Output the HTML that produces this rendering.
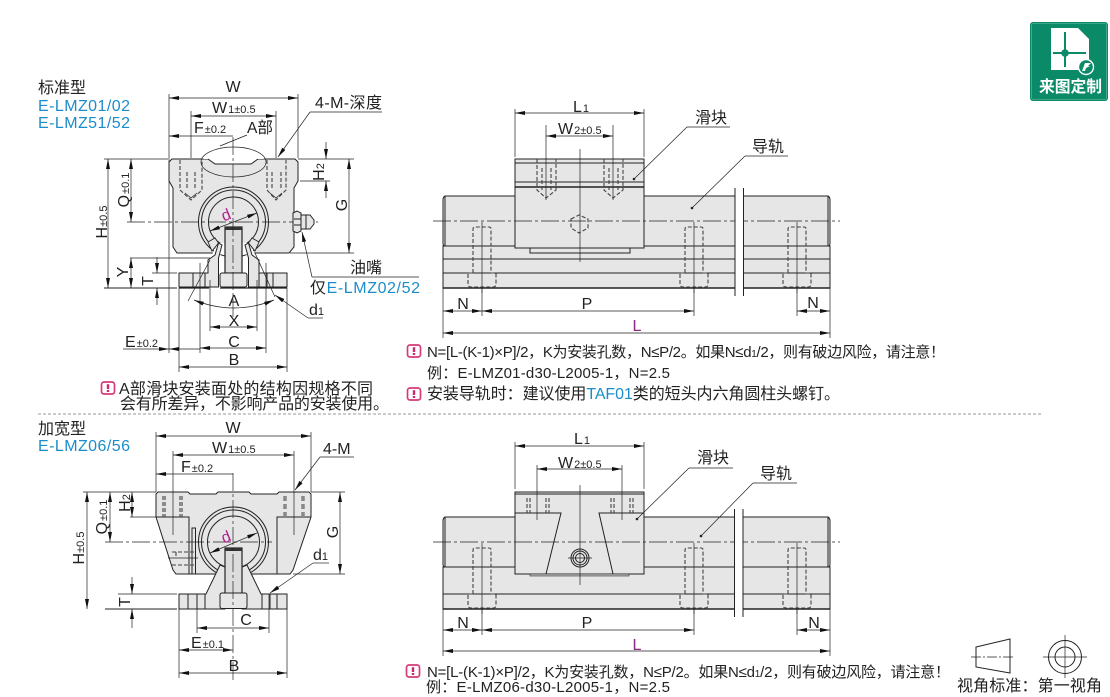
<!DOCTYPE html>
<html><head><meta charset="utf-8"><style>
html,body{margin:0;padding:0;background:#fff}
svg{display:block}
text{font-family:"Liberation Sans","Noto Sans CJK SC",sans-serif;fill:#222;font-size:16px}
.s{font-size:11px}
.b{fill:#1b8ccb}
.c{text-anchor:middle}
.o{fill:none;stroke:#222;stroke-width:1}
.f{fill:#e6e6e6;stroke:#222;stroke-width:1}
.t{fill:none;stroke:#222;stroke-width:.7}
.a{fill:none;stroke:#222;stroke-width:.7;marker-start:url(#m);marker-end:url(#m)}
.e{fill:none;stroke:#222;stroke-width:.7;marker-end:url(#m)}
.cl{fill:none;stroke:#222;stroke-width:.7;stroke-dasharray:18 3 3 3}
.h{fill:none;stroke:#444;stroke-width:1.1;stroke-dasharray:4 2}
.n{font-size:15px}
</style></head><body>
<svg width="1110" height="697" viewBox="0 0 1110 697" xmlns="http://www.w3.org/2000/svg">
<defs>
<marker id="m" markerUnits="userSpaceOnUse" markerWidth="10" markerHeight="4" viewBox="0 0 10 4" refX="10" refY="2" orient="auto-start-reverse"><path d="M0,0L10,2L0,4z" fill="#111"/></marker>
<g id="ni"><rect x="-6.500" y="-6" width="13" height="12" rx="2.500" fill="#fff" stroke="#d83a78" stroke-width="1.700"/><rect x="-1.200" y="-3.800" width="2.400" height="4.800" fill="#c92a6c"/><rect x="-1.200" y="2" width="2.400" height="2" fill="#c92a6c"/></g>
<g id="bolt"><path class="h" d="M-9,46V2Q-9,0 -7,0H7Q9,0 9,2V46"/><path class="h" d="M-9,46H-14V57Q-14,60 -11,60H11Q14,60 14,57V46H9"/><path class="t" d="M0,-5V66"/></g>
</defs>

<!-- top-right icon -->
<rect x="1030" y="22" width="78" height="79" rx="3" fill="#0b8a68"/>
<rect x="1031.500" y="23.500" width="75" height="76" rx="2" fill="none" stroke="#6fbfa8" stroke-width=".6"/>
<path d="M1051,28H1078L1089,39V70H1051z" fill="#fff"/>
<path d="M1065,32V67M1053,53H1086" stroke="#0b8a68" stroke-width="2" fill="none"/>
<circle cx="1065" cy="53" r="3.800" fill="#0b8a68"/>
<circle cx="1086" cy="67" r="7.500" fill="#0b8a68" stroke="#fff" stroke-width="1.400"/>
<path d="M1082,71L1085,63H1091L1088,66H1090L1086,68L1085,71z" fill="#fff"/>
<text x="1039" y="92" style="fill:#fff;font-size:16px;font-weight:bold" textLength="63" lengthAdjust="spacingAndGlyphs">来图定制</text>

<!-- left headings -->
<text x="38" y="93">标准型</text>
<text x="38" y="111" class="b" textLength="92">E-LMZ01/02</text>
<text x="38" y="128" class="b" textLength="92">E-LMZ51/52</text>

<!-- ========== diagram 1 ========== -->
<path class="f" d="M172,159H295L298,162V181L294,188V247L289,253H177L173,247V188L169,181V162z"/>
<circle cx="233.500" cy="222" r="35" class="o"/>
<circle cx="233.500" cy="222" r="32" class="o"/>
<circle cx="233.500" cy="222" r="25" class="o"/>
<path d="M212,254.500L218,243H249L255,254.500z" fill="#fff"/>
<path d="M197,254H205L215,240H252L262,254H270L262,240H205z" fill="#e6e6e6" opacity="0"/>
<path d="M208,242L215,238L218.500,243L212,251zM259,242L252,238L248.500,243L255,251z" fill="#e6e6e6" stroke="#222" stroke-width=".9"/>
<!-- A part ellipse -->
<path d="M203,159A32.500,15 0 0 1 264,159z" fill="#fff"/>
<path d="M208,159L215,164H251L258,159z" fill="#fff"/>
<ellipse cx="233.500" cy="162" rx="32.500" ry="15" class="t"/>
<path class="o" d="M208,159L215,164H251L258,159"/>
<!-- hidden holes -->
<path class="h" d="M180,160V190L191,200L202,190V160M187,172V190M195,172V190"/>
<path class="h" d="M267,160V190L276,200L286,190V160M272,172V190M281,172V190"/>
<path class="t" d="M185,193L191,198L197,193M270,193L276,198L282,193"/>
<!-- rail -->
<path class="f" d="M179,273H208V260L215,255L218.500,243L222,245L218.500,258V287H179z"/>
<path class="f" d="M287,273H259V260L252,255L248.500,243L245,245L248.500,258V287H287z"/>
<path class="o" d="M193,273V287M205,273V287M259,273V287M267,273V287M273,273V287"/>
<rect x="225" y="227" width="17" height="46" fill="#dcdcdc" stroke="#222" stroke-width="1.200"/>
<rect x="225" y="227" width="17" height="3" fill="#333"/>
<rect x="220" y="273" width="27" height="14" rx="2" class="f"/>
<path d="M179,288H209M220,288H287" stroke="#222" stroke-width="1.200"/>
<path d="M233,137V318" class="cl"/>
<path d="M127,222H318" class="cl"/>
<!-- nipple -->
<path class="f" d="M293,213L297,211L301,213V231L297,233L293,231z"/>
<path class="f" d="M301,215H310L314,220V224L310,229H301z"/>
<path class="o" d="M294,219H301M294,225H301M306,215V229"/>
<!-- dims -->
<path class="t" d="M169,94V353M298,94V158M191,111V158M276,111V158M104,159H168M298,159H354M290,253H354M130,258H210M152,273H177M300,181H330M200,263V353M266,263V353M210,280V331M257,280V331M179,288V372M287,288V372"/>
<path d="M104,288H177" stroke="#222" stroke-width="1.100"/>
<path class="a" d="M169,98H298"/>
<path class="a" d="M191,116H276"/>
<path class="e" d="M233,136H169"/>
<path class="a" d="M108,159V288"/>
<path class="a" d="M131,159V222"/>
<path class="a" d="M131,258V288"/>
<path class="e" d="M157,257V273"/><path class="e" d="M157,305V288"/>
<path class="a" d="M349,159V253"/>
<path class="e" d="M326,142V159"/><path class="e" d="M326,198V181"/>
<path class="a" d="M210,327H257"/>
<path class="a" d="M200,348H266"/>
<path class="a" d="M179,367H287"/>
<path class="e" d="M123,349H169"/><path class="e" d="M200,349H169"/>
<path class="t" d="M210,260L188,301M255,253L275,297"/>
<path class="a" d="M194,300Q234,316 274,300"/>
<path class="a" d="M210,231L257,213"/>
<path class="t" d="M310,112H382"/><path class="e" d="M310,112L278,157"/>
<path class="t" d="M312,277H419"/><path class="e" d="M312,277L302,232"/>
<path class="t" d="M323,318H308"/><path class="e" d="M308,318L275,295"/>
<path class="t" d="M247,135L220,146"/>
<text x="233" y="92" class="c">W</text>
<text x="212" y="113">W<tspan class="s" dx="1">1±0.5</tspan></text>
<text x="194" y="133">F<tspan class="s" dx="1">±0.2</tspan></text>
<text x="247" y="133" textLength="26" lengthAdjust="spacingAndGlyphs">A部</text>
<text x="315" y="108" textLength="67">4-M-深度</text>
<text transform="translate(107,222) rotate(-90)" class="c">H<tspan class="s">±0.5</tspan></text>
<text transform="translate(129,190) rotate(-90)" class="c">Q<tspan class="s" dx="1">±0.1</tspan></text>
<text transform="translate(324,172) rotate(-90)" class="c">H<tspan class="s">2</tspan></text>
<text transform="translate(347,205) rotate(-90)" class="c">G</text>
<text transform="translate(128,272) rotate(-90)" class="c">Y</text>
<text transform="translate(153,281) rotate(-90)" class="c">T</text>
<text transform="translate(228,220) rotate(-22)" class="c" style="fill:#b0208c">d</text>
<text x="234" y="306" class="c">A</text>
<text x="234" y="326" class="c">X</text>
<text x="234" y="347" class="c">C</text>
<text x="234" y="365" class="c">B</text>
<text x="125" y="347">E<tspan class="s" dx="1">±0.2</tspan></text>
<text x="309" y="315">d<tspan class="s">1</tspan></text>
<text x="350" y="273" textLength="32">油嘴</text>
<text x="310" y="293" textLength="110">仅<tspan class="b">E-LMZ02/52</tspan></text>

<!-- note A -->
<use href="#ni" x="108" y="388"/>
<text x="119" y="394" textLength="254">A部滑块安装面处的结构因规格不同</text>
<text x="120" y="409" textLength="269">会有所差异，不影响产品的安装使用。</text>

<!-- ========== diagram 2 ========== -->
<rect x="443" y="246" width="387" height="42" class="f"/>
<path d="M443,288H830" stroke="#222" stroke-width="1.400"/>
<path class="f" d="M445,196H828Q830,197 830,200V243Q830,246 828,246H445Q443,246 443,243V200Q443,197 445,196z"/>
<path class="o" d="M445,196V246M828,196V246M443,259H830M443,273H830"/>
<rect x="515" y="159" width="129" height="89" class="f"/>
<path class="o" d="M515,163H644M515,182H644"/><path d="M515,187H644" stroke="#222" stroke-width="1.600"/>
<rect x="530" y="248" width="100" height="5" class="f"/>
<path class="h" d="M537,159V190L546,198L556,190V159M542,168V190M551,168V190"/>
<path class="h" d="M604,159V190L613,198L623,190V159M609,168V190M618,168V190"/>
<path class="h" d="M571,219L579,215L588,219V228L579,233L571,228z"/>
<path class="t" d="M580,149V262M546,125V200M613,125V200"/>
<use href="#bolt" x="482" y="227"/><use href="#bolt" x="694" y="227"/><use href="#bolt" x="797" y="227"/>
<path class="cl" d="M433,221H840"/>
<rect x="735.500" y="186" width="8" height="112" fill="#fff"/>
<path class="o" d="M735,188V296M743.500,188V296"/>
<path class="t" d="M515,109V157M644,109V157M443,288V338M830,288V338M482,288V316M694,288V316M797,288V316"/>
<path class="a" d="M515,113H644"/>
<path class="a" d="M546,136H613"/>
<path class="a" d="M443,311H482"/>
<path class="a" d="M482,311H694"/>
<path class="a" d="M797,311H830"/>
<path class="a" d="M443,333H830"/>
<path class="t" d="M687,127H730M687,127L634,179"/><circle cx="634" cy="179" r="1.300" fill="#222"/>
<path class="t" d="M745,156H788M745,156L692,208"/><circle cx="692" cy="208" r="1.300" fill="#222"/>
<text x="573" y="112">L<tspan class="s" dx="1">1</tspan></text>
<text x="558" y="134">W<tspan class="s" dx="1">2±0.5</tspan></text>
<text x="695" y="123" textLength="32">滑块</text>
<text x="752" y="152" textLength="32">导轨</text>
<text x="463" y="309" class="c">N</text>
<text x="587" y="309" class="c">P</text>
<text x="813" y="308" class="c">N</text>
<text x="637" y="331" class="c" style="fill:#8b2a82">L</text>

<!-- notes top right -->
<use href="#ni" x="414" y="351"/>
<text x="427" y="357" class="n" textLength="518">N=[L-(K-1)×P]/2，K为安装孔数，N≤P/2。如果N≤d<tspan style="font-size:10px">1</tspan>/2，则有破边风险，请注意！</text>
<text x="427" y="378" class="n" textLength="243">例：E-LMZ01-d30-L2005-1，N=2.5</text>
<use href="#ni" x="414" y="394"/>
<text x="427" y="399" textLength="413">安装导轨时：建议使用<tspan class="b">TAF01</tspan>类的短头内六角圆柱头螺钉。</text>

<!-- separator -->
<path d="M38,414H1042" stroke="#999" stroke-width="1" stroke-dasharray="3 2" fill="none"/>

<text x="38" y="434">加宽型</text>
<text x="38" y="451" class="b" textLength="92">E-LMZ06/56</text>

<!-- ========== diagram 3 ========== -->
<path class="f" d="M158,492H188L190,494H216L218,492H249L251,494H277L279,492H309L311,494V517L293,570L290,574H176L173,570L156,517V494z"/>
<path class="o" d="M156,517H189V574M277,574V517H311"/>
<path class="h" d="M163,496V517M165,496V517M180,496V517M182,496V517"/>
<path d="M285,496V517M303,496V517" fill="none" stroke="#888" stroke-width="3.500" stroke-dasharray="5 3"/>
<rect x="192" y="528" width="3.500" height="46" class="f"/>
<path class="h" d="M172,552H196M172,565H196M176,552V557"/>
<path class="t" d="M168,558H198"/>
<circle cx="233.500" cy="542" r="35" class="o"/>
<circle cx="233.500" cy="542" r="32" class="o"/>
<circle cx="233.500" cy="542" r="26" class="o"/>
<path d="M218,578L220,566H247L249,578z" fill="#fff"/>
<path class="f" d="M179,594H206L220,565L225,567V609H179z"/>
<path class="f" d="M287,594H261L247,565L242,567V609H287z"/>
<path class="o" d="M188,594V609M197,594V609M205,594V609M262,594V609M270,594V609M277,594V609"/>
<rect x="225" y="548" width="17" height="46" fill="#dcdcdc" stroke="#222" stroke-width="1.200"/>
<rect x="225" y="548" width="17" height="3" fill="#333"/>
<rect x="220" y="593" width="27" height="15.500" rx="2" class="f"/>
<path class="cl" d="M233,473V683"/>
<path class="cl" d="M105,542H272"/>
<path class="t" d="M156,432V492M311,432V492M173,451V535M294,451V535M83,492H156M311,492H345M130,517H156M293,574H345M118,594H177M179,609V678M287,609V678M197,594V633M269,594V633"/>
<path d="M105,609H177" stroke="#222" stroke-width="1"/>
<path class="a" d="M156,436H311"/>
<path class="a" d="M173,455H294"/>
<path class="e" d="M233,474H156"/>
<path class="a" d="M87,492V609"/>
<path class="a" d="M110,492V542"/>
<path class="a" d="M132,492V517"/>
<path class="a" d="M340,492V574"/>
<path class="e" d="M132,577V594"/><path class="e" d="M132,628V609"/>
<path class="a" d="M197,628H269"/>
<path class="a" d="M179,650H233"/>
<path class="a" d="M179,673H287"/>
<path class="a" d="M210,553L257,533"/>
<path class="t" d="M320,457H354"/><path class="e" d="M320,457L295,490"/>
<path class="t" d="M329,563H313"/><path class="e" d="M313,563L270,593"/>
<text x="233" y="433" class="c">W</text>
<text x="212" y="453">W<tspan class="s" dx="1">1±0.5</tspan></text>
<text x="181" y="472">F<tspan class="s" dx="1">±0.2</tspan></text>
<text x="323" y="454">4-M</text>
<text transform="translate(84,548) rotate(-90)" class="c">H<tspan class="s">±0.5</tspan></text>
<text transform="translate(107,517) rotate(-90)" class="c">Q<tspan class="s" dx="1">±0.1</tspan></text>
<text transform="translate(130,503) rotate(-90)" class="c">H<tspan class="s">2</tspan></text>
<text transform="translate(338,532) rotate(-90)" class="c">G</text>
<text transform="translate(130,602) rotate(-90)" class="c">T</text>
<text transform="translate(228,542) rotate(-22)" class="c" style="fill:#b0208c">d</text>
<text x="313" y="560">d<tspan class="s">1</tspan></text>
<text x="246" y="625" class="c">C</text>
<text x="191" y="648">E<tspan class="s" dx="1">±0.1</tspan></text>
<text x="234" y="671" class="c">B</text>

<!-- ========== diagram 4 ========== -->
<rect x="443" y="567" width="387" height="42" class="f"/>
<path d="M443,609H830" stroke="#222" stroke-width="1.400"/>
<path class="f" d="M445,517H828Q830,518 830,521V564Q830,567 828,567H445Q443,567 443,564V521Q443,518 445,517z"/>
<path class="o" d="M445,517V567M828,517V567M443,594H830"/>
<rect x="515" y="492" width="129" height="82" class="f"/>
<path class="o" d="M515,494H644M515,513H561L546,574M644,513H599L613,574"/>
<rect x="530" y="574" width="99" height="2" fill="#bbb" stroke="#333" stroke-width=".6"/>
<path class="h" d="M527,498V513M530,498V513M546,498V513M549,498V513M611,498V513M614,498V513M630,498V513M633,498V513"/>
<path class="t" d="M537,465V520M622,465V520"/>
<circle cx="580" cy="558" r="9" class="o" stroke-width="1.500"/>
<circle cx="580" cy="558" r="7" class="o"/>
<circle cx="580" cy="558" r="4.500" class="o"/>
<path class="t" d="M580,485V585M568,558H592"/>
<use href="#bolt" x="482" y="548"/><use href="#bolt" x="694" y="548"/><use href="#bolt" x="797" y="548"/>
<path class="cl" d="M433,542H840"/>
<rect x="734.500" y="507" width="8.500" height="112" fill="#fff"/>
<path class="o" d="M734.500,509V617M743,509V617"/>
<path class="t" d="M515,442V489M644,442V489M443,609V656M830,609V656M482,609V635M694,609V635M797,609V635"/>
<path class="a" d="M515,446H644"/>
<path class="a" d="M537,469H622"/>
<path class="a" d="M443,630H482"/>
<path class="a" d="M482,630H694"/>
<path class="a" d="M797,630H830"/>
<path class="a" d="M443,651H830"/>
<path class="t" d="M689,468H733M689,468L637,519"/><circle cx="637" cy="519" r="1.300" fill="#222"/>
<path class="t" d="M753,483H797M753,483L701,536"/><circle cx="701" cy="536" r="1.300" fill="#222"/>
<text x="574" y="444">L<tspan class="s" dx="1">1</tspan></text>
<text x="558" y="468">W<tspan class="s" dx="1">2±0.5</tspan></text>
<text x="697" y="463" textLength="32">滑块</text>
<text x="760" y="479" textLength="32">导轨</text>
<text x="463" y="628" class="c">N</text>
<text x="587" y="628" class="c">P</text>
<text x="814" y="628" class="c">N</text>
<text x="637" y="650" class="c" style="fill:#8b2a82">L</text>

<use href="#ni" x="413" y="671"/>
<text x="427" y="677" class="n" textLength="523">N=[L-(K-1)×P]/2，K为安装孔数，N≤P/2。如果N≤d<tspan style="font-size:10px">1</tspan>/2，则有破边风险，请注意！</text>
<text x="426" y="692" class="n" textLength="244">例：E-LMZ06-d30-L2005-1，N=2.5</text>

<!-- projection symbol -->
<path class="o" d="M976,647L1010,639V673L976,667z"/>
<path class="t" d="M971,657H1015" stroke-dasharray="10 2 2 2"/>
<circle cx="1065" cy="657" r="16.500" class="o"/><circle cx="1065" cy="657" r="10" class="o"/>
<path class="t" d="M1043,657H1087M1065,635V678"/>
<text x="957" y="691" textLength="145">视角标准：第一视角</text>
</svg>
</body></html>
